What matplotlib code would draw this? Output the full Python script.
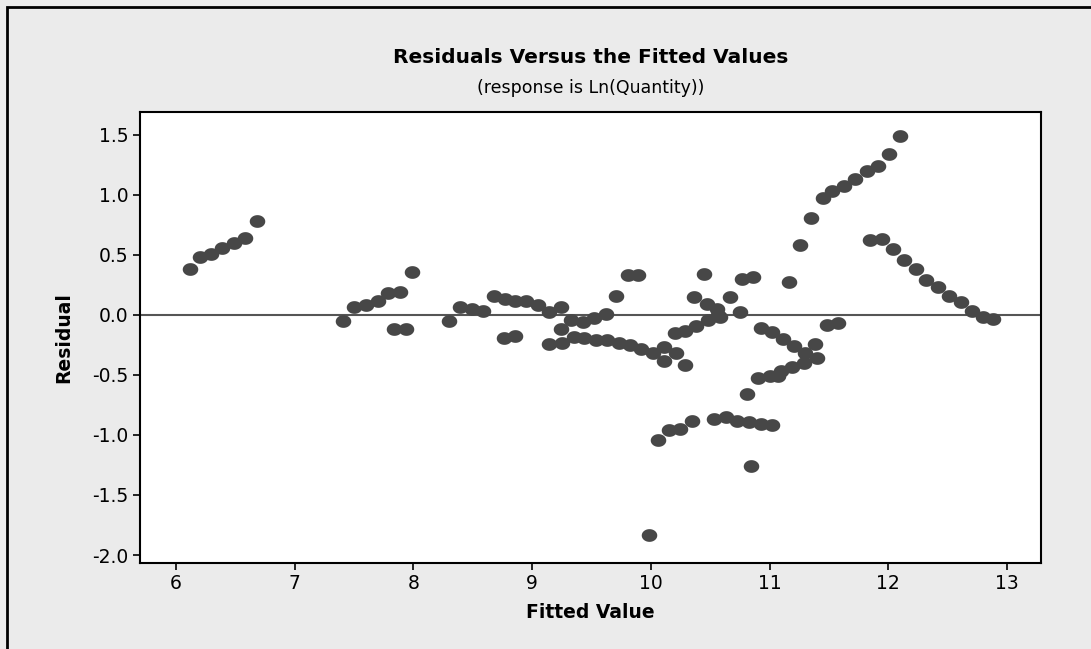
import numpy as np
import matplotlib
matplotlib.use("Agg")
import matplotlib.pyplot as plt
from matplotlib.path import Path
from matplotlib.patches import Rectangle

plt.rcParams.update({
    'font.family': ['DejaVu Sans'],
    'font.size': 12,
})

# fitted values and residuals
fitted = [
    6.12, 6.20, 6.295, 6.39, 6.49, 6.58, 6.68,
    7.41, 7.50, 7.60, 7.70, 7.79, 7.84, 7.89, 7.935, 7.985,
    8.30, 8.395, 8.49, 8.59, 8.68, 8.76, 8.775, 8.855, 8.86, 8.95,
    9.05, 9.14, 9.14, 9.24, 9.24, 9.255, 9.33, 9.35, 9.43, 9.44,
    9.52, 9.54, 9.62, 9.63, 9.71, 9.73, 9.81, 9.825, 9.895, 9.92,
    9.985, 10.015, 10.06, 10.11, 10.11, 10.155, 10.20, 10.21, 10.25, 10.29,
    10.29, 10.35, 10.36, 10.38, 10.45, 10.47, 10.48, 10.535, 10.56, 10.57,
    10.58, 10.635, 10.67, 10.73, 10.75, 10.765, 10.81, 10.83, 10.84, 10.86,
    10.905, 10.93, 10.925, 11.00, 11.02, 11.02, 11.07, 11.10, 11.11, 11.16,
    11.19, 11.21, 11.26, 11.29, 11.30, 11.35, 11.385, 11.40, 11.45, 11.48,
    11.53, 11.58, 11.63, 11.72, 11.82, 11.85, 11.91, 11.945, 12.01, 12.04,
    12.10, 12.13, 12.23, 12.32, 12.42, 12.515, 12.61, 12.705, 12.80, 12.885,
]
residual = [
    0.385, 0.485, 0.51, 0.557, 0.60, 0.64, 0.78,
    -0.05, 0.065, 0.08, 0.12, 0.18, -0.12, 0.19, -0.12, 0.36,
    -0.05, 0.065, 0.05, 0.035, 0.16, -0.19, 0.135, 0.12, -0.175, 0.12,
    0.08, 0.025, -0.245, 0.065, -0.12, -0.237, -0.04, -0.18, -0.06, -0.19,
    -0.025, -0.205, 0.01, -0.205, 0.16, -0.237, 0.33, -0.25, 0.33, -0.28,
    -1.83, -0.32, -1.045, -0.265, -0.38, -0.96, -0.15, -0.315, -0.95, -0.13,
    -0.415, -0.88, 0.15, -0.09, 0.34, 0.09, -0.045, -0.865, 0.05, 0.0,
    -0.02, -0.85, 0.15, -0.88, 0.025, 0.30, -0.655, -0.89, -1.257, 0.315,
    -0.527, -0.11, -0.905, -0.51, -0.14, -0.92, -0.505, -0.47, -0.2, 0.277,
    -0.43, -0.26, 0.58, -0.40, -0.315, 0.807, -0.24, -0.357, 0.973, -0.08,
    1.03, -0.065, 1.073, 1.13, 1.20, 0.627, 1.24, 0.637, 1.34, 0.554,
    1.49, 0.457, 0.385, 0.29, 0.235, 0.16, 0.107, 0.03, -0.02, -0.03,
]

xticks = [6, 7, 8, 9, 10, 11, 12, 13]
yticks = [-2.0, -1.5, -1.0, -0.5, 0.0, 0.5, 1.0, 1.5]

bg = '#ebebeb'
dot = '#474747'

fig = plt.figure(figsize=(10.91, 6.49), dpi=100, facecolor=bg)
ax = fig.add_axes([0.1283, 0.1330, 0.8259, 0.6949])
ax.set_facecolor('white')

# slightly flattened round marker
t = np.linspace(0, 2 * np.pi, 60)
ell = Path(np.column_stack([np.cos(t), 0.82 * np.sin(t)]), closed=True)

ax.axhline(0, color='#555555', linewidth=1.5, zorder=1)
ax.scatter(fitted, residual, marker=ell, s=125, color=dot, linewidths=0, zorder=3)

ax.set_xlim(5.697, 13.287)
ax.set_ylim(-2.064, 1.694)
ax.set_xticks(xticks)
ax.set_yticks(yticks)
ax.set_yticklabels([f'{v:.1f}' for v in yticks])
ax.tick_params(direction='out', length=5, width=1.2, labelsize=13.5, pad=3)
for sp in ax.spines.values():
    sp.set_linewidth(1.5)

ax.set_xlabel('Fitted Value', fontweight='bold', fontsize=13.5, labelpad=7)
ax.set_ylabel('Residual', fontweight='bold', fontsize=13.5, labelpad=14)

fig.text(0.541, 0.911, 'Residuals Versus the Fitted Values', ha='center', va='center',
         fontsize=14.5, fontweight='bold')
fig.text(0.541, 0.865, '(response is Ln(Quantity))', ha='center', va='center', fontsize=12.5)

# outer frame
fig.patches.append(Rectangle((7 / 1091, -0.2), 1.2, 1.2 - 7 / 649,
                             transform=fig.transFigure, fill=False,
                             edgecolor='black', linewidth=2))

fig.savefig('out.png', dpi=100, facecolor=bg)
